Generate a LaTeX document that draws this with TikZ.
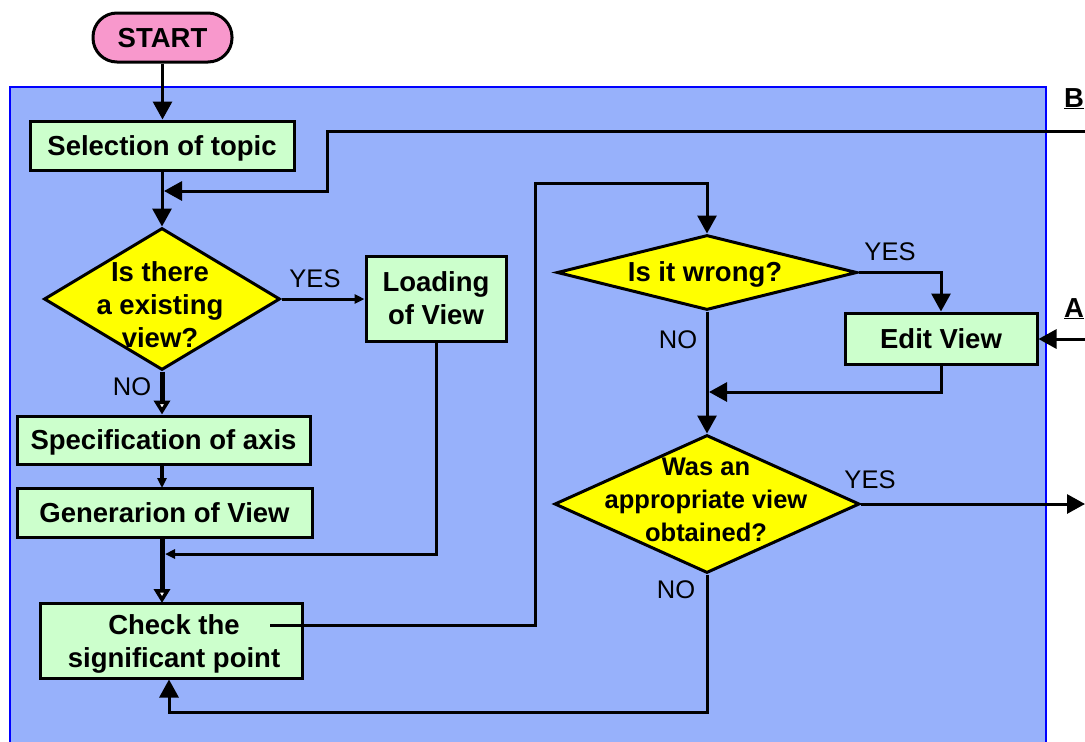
\documentclass[tikz,border=0pt]{standalone}
\usepackage{fontspec}
\setmainfont{Liberation Sans}
\usetikzlibrary{arrows.meta,shapes.geometric}
\definecolor{panel}{RGB}{151,177,251}
\definecolor{panelborder}{RGB}{0,0,255}
\definecolor{startpink}{RGB}{248,152,204}
\definecolor{boxgreen}{RGB}{204,255,204}
\definecolor{decyellow}{RGB}{255,255,0}
\begin{document}
\begin{tikzpicture}[x=1pt,y=-1pt,
  txt/.style={font=\fontsize{25.5}{33}\selectfont, inner sep=0pt, align=center},
  btxt/.style={txt, font=\bfseries\fontsize{27.5}{33}\selectfont},
  smalltxt/.style={txt, font=\bfseries\fontsize{25.5}{33}\selectfont},
  oneline/.style={text depth=0pt},
  procbox/.style={btxt, draw=black, line width=3pt, fill=boxgreen},
  startbox/.style={btxt, oneline, draw=black, line width=3pt, fill=startpink, rounded corners=24pt},
  decision/.style={diamond, draw=black, line width=3pt, fill=decyellow, inner sep=0pt},
  conn/.style={draw=black, line width=3pt, line join=miter, -{Triangle[length=18pt,width=19pt]}},
  thinconn/.style={draw=black, line width=3pt, -{Triangle[length=10pt,width=9pt]}},
  heavyconn/.style={draw=black, line width=5pt, -{Triangle[length=14pt,width=16pt,open,fill=white]}},
  lbl/.style={txt},
  pagemark/.style={btxt, anchor=base west}
]
\useasboundingbox (0,0) rectangle (1085,742);
\fill[white] (0,0) rectangle (1085,742);

% blue panel, its lower edge runs off the page
\begin{scope}
  \clip (0,0) rectangle (1085,742);
  \fill[panel] (10,87) rectangle (1046,760);
  \draw[panelborder, line width=2.5pt] (10,760) -- (10,87) -- (1046,87) -- (1046,760);
\end{scope}

% process boxes
\node[startbox, minimum width=139pt, minimum height=49pt] (start) at (162.5,37.5) {START};
\node[procbox, oneline, minimum width=264pt, minimum height=49pt] (sel) at (162,145.5) {Selection of topic};
\node[procbox, oneline, minimum width=293pt, minimum height=48pt] (spec) at (163.5,440) {Specification of axis};
\node[procbox, oneline, minimum width=295pt, minimum height=49pt] (gen) at (164.5,512.5) {Generarion of View};
\node[procbox, minimum width=262pt, minimum height=75pt] (chk) at (171,640.5) {};
\node[btxt] (chktxt) at (174,644) {Check the\\significant point};
\node[procbox, minimum width=140pt, minimum height=85pt] (load) at (436,298.5) {Loading\\of View};
\node[procbox, oneline, minimum width=192pt, minimum height=51pt] (edit) at (941,338.5) {Edit View};

% decisions
\node[decision, minimum width=236pt, minimum height=142pt] (d1) at (162,299) {};
\node[btxt] (d1txt) at (160,305) {Is there\\a existing\\view?};
\node[decision, minimum width=300pt, minimum height=75pt] (wrong) at (707,272.5) {};
\node[btxt, oneline] (wrongtxt) at (705,272) {Is it wrong?};
\node[decision, minimum width=305pt, minimum height=138pt] (d2) at (707,504) {};
\node[smalltxt] (d2txt) at (706,500) {Was an\\appropriate view\\obtained?};

% connector labels
\node[lbl] (yes1) at (315,279) {YES};
\node[lbl] (no1) at (132,387) {NO};
\node[lbl] (yes2) at (890,252) {YES};
\node[lbl] (no2) at (678,340) {NO};
\node[lbl] (yes3) at (870,480) {YES};
\node[lbl] (no3) at (676,590) {NO};

% off-page connector marks
\node[pagemark] (markB) at (1064,107) {\underline{B}};
\node[pagemark] (markA) at (1064,317) {\underline{A}};

% free ends and joints
\coordinate (Bin) at (1085,131);
\coordinate (Bjoin) at (164,191);
\coordinate (Ljoin) at (165,554);
\coordinate (chkout) at (270,625);
\coordinate (Ejoin) at (709,392);
\coordinate (Yout) at (1085,504);
\coordinate (Ain) at (1085,339);
\coordinate (loop) at (169,712);

% connectors
\draw[conn] (start.south) -- (start.south |- sel.north);
\draw[conn] (sel.south) -- (d1.north);
\draw[conn] (Bin) -- (327,131) -- (327,191) -- (Bjoin);
\draw[thinconn] (d1.east) -- (d1.east -| load.west);
\draw[thinconn] (load.south) |- (Ljoin);
\draw[heavyconn] (d1.south) -- (d1.south |- spec.north);
\draw[thinconn, line width=4pt] (162,464) -- (162,488);
\draw[heavyconn] (162,537) -- (162,603);
\draw[conn] (chkout) -- (535,625) -- (535,183) -| (wrong.north);
\draw[conn] (wrong.east) -| (edit.north);
\draw[conn] (edit.south) |- (Ejoin);
\draw[conn] (wrong.south) -- (d2.north);
\draw[conn] (d2.east) -- (d2.east -| Yout);
\draw[conn] (d2.south) |- (loop) -- (loop |- chk.south);
\draw[conn] (Ain) -- (Ain -| edit.east);
\end{tikzpicture}
\end{document}
